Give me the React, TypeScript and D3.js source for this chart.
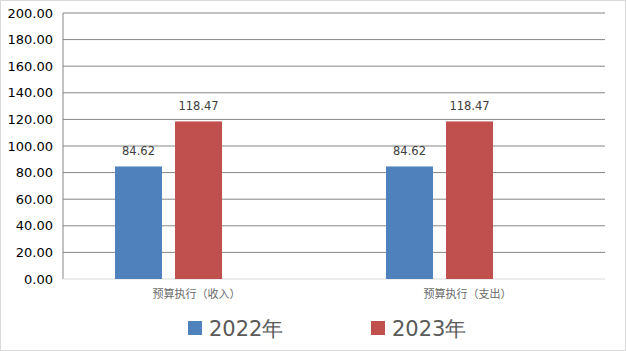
import React from "react";
import * as d3 from "d3";

const categories = ["预算执行（收入）", "预算执行（支出）"];
const seriesNames = ["2022年", "2023年"];
const series2022 = [84.62, 84.62];
const series2023 = [118.47, 118.47];
const yTicks = [0, 20, 40, 60, 80, 100, 120, 140, 160, 180, 200];
const colors = ["#4F81BD", "#C0504D"];

export default function App() {
  const W = 626, H = 351;
  const left = 63, right = 605, top = 13, bottom = 279;
  const x = d3.scaleBand<string>().domain(categories).range([left, right]);
  const y = d3.scaleLinear().domain([0, 200]).range([bottom, top]);
  // three slots per category (third empty), Excel-like
  const step = 60, bw = 47;
  const groupW = 3 * step - 13;
  const seriesData = [series2022, series2023];
  const font = "'DejaVu Sans', sans-serif";
  return (
    <svg width={W} height={H} style={{ position: "absolute", left: 0, top: 0 }} fontFamily={font}>
      <rect x={0.5} y={0.5} width={W - 1} height={H - 1} fill="#fff" stroke="#d9d9d9" />
      {yTicks.map((t) => (
        <g key={t}>
          {t > 0 && <line x1={left} x2={right} y1={y(t)} y2={y(t)} stroke="#868686" strokeWidth={1} />}
          <text x={53} y={y(t)} dy="0.36em" textAnchor="end" fontSize={13} fill="#000">{t.toFixed(2)}</text>
        </g>
      ))}
      <line x1={left} x2={left} y1={top} y2={bottom} stroke="#868686" />
      <line x1={left} x2={right} y1={bottom} y2={bottom} stroke="#d9d9d9" />
      {categories.map((c, i) => {
        const cx = (x(c) as number) + x.bandwidth() / 2;
        const g0 = cx - groupW / 2;
        return (
          <g key={c}>
            {seriesData.map((s, j) => {
              const bx = g0 + j * step;
              return (
                <g key={j}>
                  <rect x={bx} y={y(s[i])} width={bw} height={bottom - y(s[i])} fill={colors[j]} />
                  <text x={bx + bw / 2} y={y(s[i]) - 11} textAnchor="middle" fontSize={11.5} fill="#404040">{s[i].toFixed(2)}</text>
                </g>
              );
            })}
            <text x={cx - 2} y={298} textAnchor="middle" fontSize={11} fill="#6a6a6a" fontFamily="'Noto Sans CJK SC', sans-serif">{c}</text>
          </g>
        );
      })}
      {seriesNames.map((n, j) => {
        const lx = [188, 371][j];
        return (
          <g key={n}>
            <rect x={lx} y={321} width={14} height={14} fill={colors[j]} />
            <text x={lx + 21} y={336} fontSize={21} fill="#595959">{n}</text>
          </g>
        );
      })}
    </svg>
  );
}
